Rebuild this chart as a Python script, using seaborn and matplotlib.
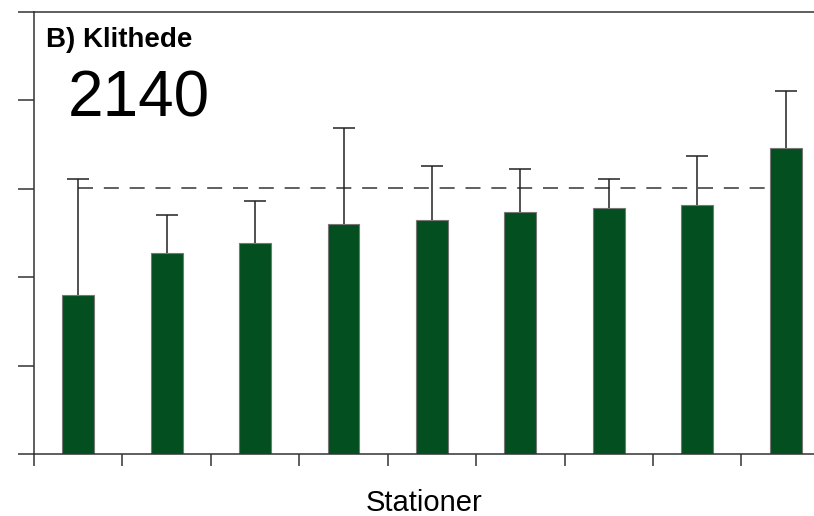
import matplotlib
matplotlib.use('Agg')
import matplotlib.pyplot as plt
import seaborn as sns
import pandas as pd

# Values (y axis has no labels, units = tick steps)
stations = ['1', '2', '3', '4', '5', '6', '7', '8', '9']
means = [1.80, 2.27, 2.39, 2.60, 2.65, 2.74, 2.78, 2.82, 3.46]
upper = [3.11, 2.70, 2.86, 3.69, 3.26, 3.22, 3.11, 3.37, 4.11]
reference_level = 3.01

df = pd.DataFrame({'Station': stations, 'Mean': means})
errs = [u - m for u, m in zip(upper, means)]

sns.set_style('white')
plt.rcParams['font.family'] = ['Liberation Sans', 'DejaVu Sans']
plt.rcParams['text.color'] = 'black'
plt.rcParams['axes.labelcolor'] = 'black'

fig = plt.figure(figsize=(8.14, 5.16), dpi=100)
ax = fig.add_axes([34 / 814, 1 - 454 / 516, 1 - 34 / 814, (454 - 12) / 516])

sns.barplot(data=df, x='Station', y='Mean', color='#034f20', width=0.36,
            edgecolor='#777777', linewidth=0.8, saturation=1, ax=ax, zorder=2)
# upper-only error bars: hide the lower caps
_, caps, _ = ax.errorbar(range(len(stations)), means, yerr=[[0] * len(errs), errs], fmt='none',
                         ecolor='#222222', elinewidth=1.1, capsize=8, capthick=1.1, zorder=3)
caps[0].set_visible(False)
ax.hlines(reference_level, 0, len(stations) - 1 + 0.05, colors='#444444', linewidth=1.2,
          linestyles=(0, (9, 6.5)), zorder=1)

ax.set_xlim(-0.5, 8.32)
ax.set_ylim(0, 5)
ax.set_xticks([i - 0.5 for i in range(len(stations))])
ax.set_xticklabels([])
ax.set_yticks([0, 1, 2, 3, 4, 5])
ax.set_yticklabels([])
ax.tick_params(axis='x', direction='out', length=8.6, width=1.1, color='#333333', bottom=True)
ax.tick_params(axis='y', direction='out', length=11.5, width=1.1, color='#333333', left=True)
ax.set_xlabel('Stationer', fontsize=21, labelpad=13)
ax.set_ylabel('')

for side in ['left', 'bottom', 'top']:
    ax.spines[side].set_color('#333333')
    ax.spines[side].set_linewidth(1.1)
ax.spines['right'].set_visible(False)

ax.text(0.015, 0.965, 'B) Klithede', transform=ax.transAxes, fontsize=20,
        fontweight='bold', va='top', ha='left')
ax.text(0.043, 0.87, '2140', transform=ax.transAxes, fontsize=46, va='top', ha='left')

fig.savefig('out.png', dpi=100)
